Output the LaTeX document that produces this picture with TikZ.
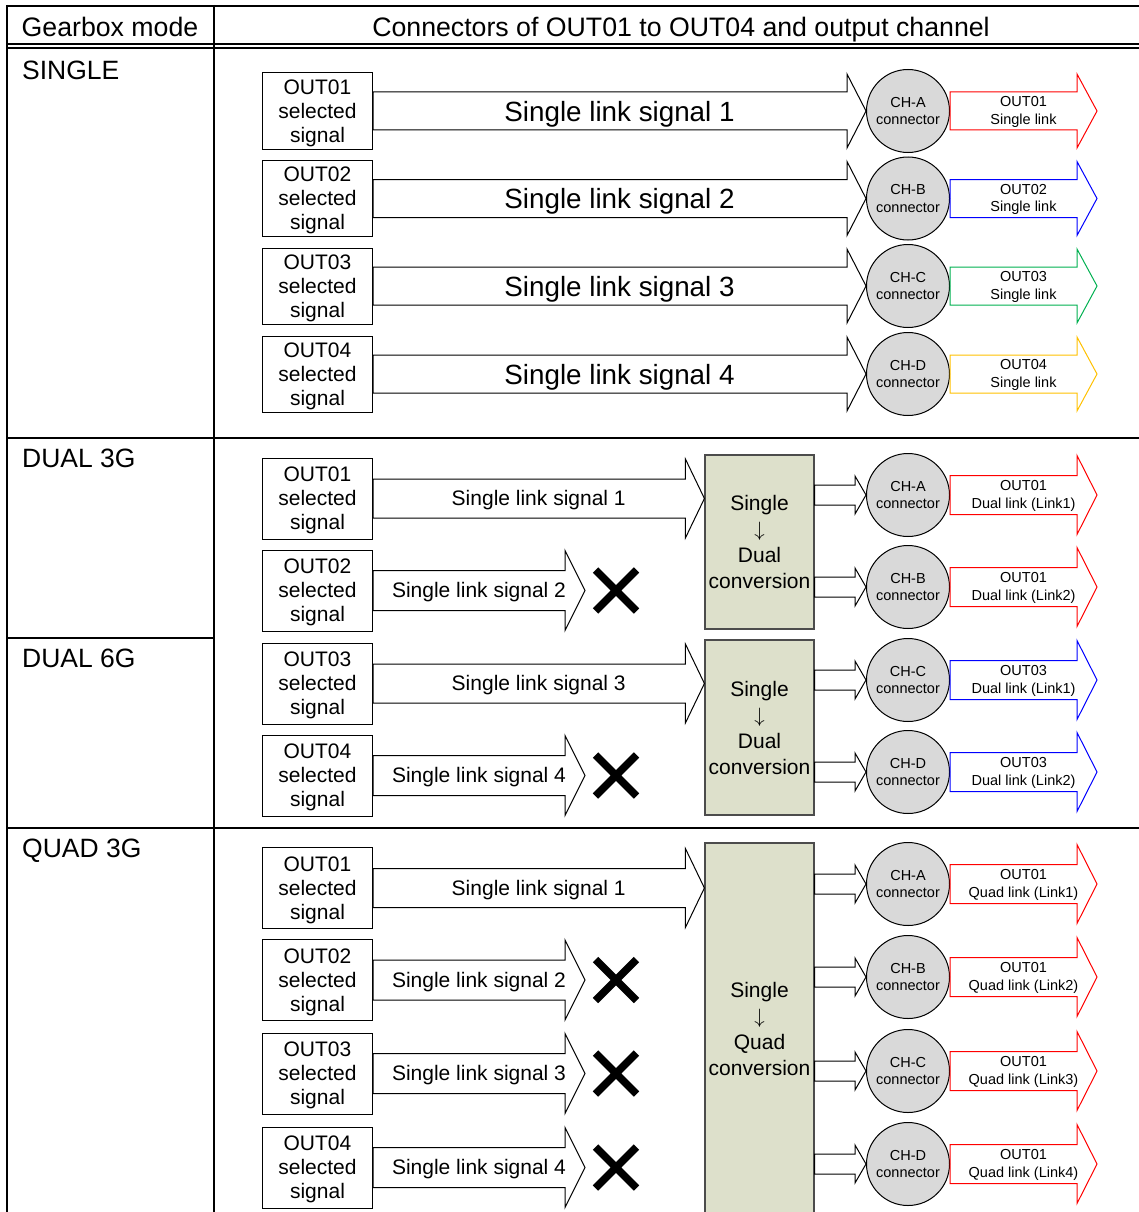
\documentclass[tikz,border=0pt]{standalone}
\usepackage{fontspec}
\setmainfont{Liberation Sans}
\usetikzlibrary{calc}

\definecolor{convfill}{HTML}{DDE0CB}
\definecolor{connfill}{HTML}{D9D9D9}
\definecolor{linkred}{HTML}{FF0000}
\definecolor{linkblue}{HTML}{0000FF}
\definecolor{linkgreen}{HTML}{00B050}
\definecolor{linkyellow}{HTML}{FFC000}

% fat arrow: [colour]{from}{to}{shaft half}{head half}{head length}
\newcommand{\fatarrow}[6][black]{%
  \draw[#1,line width=1] let \p1=(#2), \p2=(#3) in
    (\x1,\y1+#4) -- (\x2-#6,\y1+#4) -- (\x2-#6,\y1+#5) -- (\x2,\y1)
    -- (\x2-#6,\y1-#5) -- (\x2-#6,\y1-#4) -- (\x1,\y1-#4) -- cycle;}
\newcommand{\crossmark}[1]{%
  \draw[line width=7.5] (#1) +(-20.5,-20.5) -- +(20.5,20.5)
    (#1) +(-20.5,20.5) -- +(20.5,-20.5);}

\begin{document}
\begin{tikzpicture}[x=1pt,y=-1pt,
  gridline/.style={line width=2},
  headtext/.style={anchor=base,inner sep=0,font=\fontsize{26.7}{30}\selectfont},
  modelabel/.style={anchor=base west,inner sep=0,font=\fontsize{26.5}{30}\selectfont},
  selbox/.style={draw,line width=1,minimum width=110,minimum height=81,inner sep=0,
    align=center,font=\fontsize{21}{24}\selectfont,text depth=-1.5pt},
  conn/.style={circle,draw,line width=1,fill=connfill,minimum size=83,
    inner sep=0,align=center,font=\fontsize{14.5}{17.5}\selectfont},
  conv/.style={draw=black!70,line width=1.2,fill=convfill,minimum width=109,inner sep=0,
    align=center,font=\fontsize{21}{26}\selectfont},
  bigsig/.style={font=\fontsize{27.8}{30}\selectfont,yshift=-3},
  sig/.style={font=\fontsize{21}{24}\selectfont,yshift=-2},
  linktext/.style={align=center,font=\fontsize{14.5}{17.5}\selectfont,yshift=-1}]
  \useasboundingbox (0,0) rectangle (1139,1212);

  % table
  \draw[gridline] (7,6) -- (1141,6);
  \draw[gridline] (7,44.3) -- (1141,44.3) (7,48.3) -- (1141,48.3);
  \draw[gridline] (7,438) -- (1141,438) (7,828) -- (1141,828);
  \draw[gridline] (7,638) -- (213.5,638);
  \draw[gridline] (7,5) -- (7,1214) (213.5,5) -- (213.5,1214);
  \node[headtext] (hMode) at (110,36.5) {Gearbox mode};
  \node[headtext] (hConn) at (681,36.5) {Connectors of OUT01 to OUT04 and output channel};
  \node[modelabel] (mSingle) at (22,79.5) {SINGLE};
  \node[modelabel] (mDual3) at (22,467.5) {DUAL 3G};
  \node[modelabel] (mDual6) at (22,667.5) {DUAL 6G};
  \node[modelabel] (mQuad3) at (22,857.5) {QUAD 3G};

  % SINGLE
  \node[selbox,minimum height=76] (si1) at (317.5,111) {OUT01\\selected\\signal};
  \node[selbox,minimum height=76] (si2) at (317.5,198.5) {OUT02\\selected\\signal};
  \node[selbox,minimum height=76] (si3) at (317.5,286) {OUT03\\selected\\signal};
  \node[selbox,minimum height=76] (si4) at (317.5,374) {OUT04\\selected\\signal};
  \node[conn] (sA) at (908,111) {CH-A\\connector};
  \node[conn] (sB) at (908,198.5) {CH-B\\connector};
  \node[conn] (sC) at (908,286) {CH-C\\connector};
  \node[conn] (sD) at (908,374) {CH-D\\connector};
  \fatarrow{si1.east}{sA.west}{19pt}{37pt}{19pt}
  \fatarrow{si2.east}{sB.west}{19pt}{37pt}{19pt}
  \fatarrow{si3.east}{sC.west}{19pt}{37pt}{19pt}
  \fatarrow{si4.east}{sD.west}{19pt}{37pt}{19pt}
  \node[bigsig] (sl1) at ($(si1.east)!0.5!(sA.west)$) {Single link signal 1};
  \node[bigsig] (sl2) at ($(si2.east)!0.5!(sB.west)$) {Single link signal 2};
  \node[bigsig] (sl3) at ($(si3.east)!0.5!(sC.west)$) {Single link signal 3};
  \node[bigsig] (sl4) at ($(si4.east)!0.5!(sD.west)$) {Single link signal 4};
  \fatarrow[linkred]{sA.east}{$(sA.east)+(147,0)$}{19pt}{37pt}{20pt}
  \fatarrow[linkblue]{sB.east}{$(sB.east)+(147,0)$}{19pt}{37pt}{20pt}
  \fatarrow[linkgreen]{sC.east}{$(sC.east)+(147,0)$}{19pt}{37pt}{20pt}
  \fatarrow[linkyellow]{sD.east}{$(sD.east)+(147,0)$}{19pt}{37pt}{20pt}
  \node[linktext] (so1) at ($(sA.east)+(73.5,0)$) {OUT01\\Single link};
  \node[linktext] (so2) at ($(sB.east)+(73.5,0)$) {OUT02\\Single link};
  \node[linktext] (so3) at ($(sC.east)+(73.5,0)$) {OUT03\\Single link};
  \node[linktext] (so4) at ($(sD.east)+(73.5,0)$) {OUT04\\Single link};

  % DUAL 3G / DUAL 6G
  \node[selbox] (d1) at (317.5,498.5) {OUT01\\selected\\signal};
  \node[selbox] (d2) at (317.5,590.5) {OUT02\\selected\\signal};
  \node[selbox] (d3) at (317.5,683.5) {OUT03\\selected\\signal};
  \node[selbox] (d4) at (317.5,775.5) {OUT04\\selected\\signal};
  \node[conv,minimum height=174] (dc1) at (759.5,542) {Single\\$\downarrow$\\Dual\\conversion};
  \node[conv,minimum height=175] (dc2) at (759.5,727.5) {Single\\$\downarrow$\\Dual\\conversion};
  \node[conn] (dA) at (908,495) {CH-A\\connector};
  \node[conn] (dB) at (908,587) {CH-B\\connector};
  \node[conn] (dC) at (908,680) {CH-C\\connector};
  \node[conn] (dD) at (908,772) {CH-D\\connector};
  \coordinate (dx2) at (585,590.5);
  \coordinate (dx4) at (585,775.5);
  \fatarrow{d1.east}{dc1.west |- d1}{19.5pt}{39.5pt}{19pt}
  \fatarrow{d2.east}{dx2}{20pt}{40pt}{20pt}
  \fatarrow{d3.east}{dc2.west |- d3}{19.5pt}{39.5pt}{19pt}
  \fatarrow{d4.east}{dx4}{20pt}{40pt}{20pt}
  \node[sig] (dl1) at ($(d1.east)!0.5!(dc1.west |- d1)$) {Single link signal 1};
  \node[sig] (dl2) at ($(d2.east)!0.5!(dx2)$) {Single link signal 2};
  \node[sig] (dl3) at ($(d3.east)!0.5!(dc2.west |- d3)$) {Single link signal 3};
  \node[sig] (dl4) at ($(d4.east)!0.5!(dx4)$) {Single link signal 4};
  \crossmark{616,590.5}
  \crossmark{616,775.5}
  \fatarrow{dc1.east |- dA}{dA.west}{10pt}{19pt}{11pt}
  \fatarrow{dc1.east |- dB}{dB.west}{10pt}{19pt}{11pt}
  \fatarrow{dc2.east |- dC}{dC.west}{10pt}{19pt}{11pt}
  \fatarrow{dc2.east |- dD}{dD.west}{10pt}{19pt}{11pt}
  \fatarrow[linkred]{dA.east}{$(dA.east)+(147,0)$}{19.5pt}{39.5pt}{20pt}
  \fatarrow[linkred]{dB.east}{$(dB.east)+(147,0)$}{19.5pt}{39.5pt}{20pt}
  \fatarrow[linkblue]{dC.east}{$(dC.east)+(147,0)$}{19.5pt}{39.5pt}{20pt}
  \fatarrow[linkblue]{dD.east}{$(dD.east)+(147,0)$}{19.5pt}{39.5pt}{20pt}
  \node[linktext] (do1) at ($(dA.east)+(73.5,0)$) {OUT01\\Dual link (Link1)};
  \node[linktext] (do2) at ($(dB.east)+(73.5,0)$) {OUT01\\Dual link (Link2)};
  \node[linktext] (do3) at ($(dC.east)+(73.5,0)$) {OUT03\\Dual link (Link1)};
  \node[linktext] (do4) at ($(dD.east)+(73.5,0)$) {OUT03\\Dual link (Link2)};

  % QUAD 3G
  \node[selbox] (q1) at (317.5,888) {OUT01\\selected\\signal};
  \node[selbox] (q2) at (317.5,980) {OUT02\\selected\\signal};
  \node[selbox] (q3) at (317.5,1073.5) {OUT03\\selected\\signal};
  \node[selbox] (q4) at (317.5,1167.5) {OUT04\\selected\\signal};
  \node[conv,minimum height=371] (qc) at (759.5,1028.5) {Single\\$\downarrow$\\Quad\\conversion};
  \node[conn] (qA) at (908,884) {CH-A\\connector};
  \node[conn] (qB) at (908,977) {CH-B\\connector};
  \node[conn] (qC) at (908,1071) {CH-C\\connector};
  \node[conn] (qD) at (908,1164) {CH-D\\connector};
  \coordinate (qx2) at (585,980);
  \coordinate (qx3) at (585,1073.5);
  \coordinate (qx4) at (585,1167.5);
  \fatarrow{q1.east}{qc.west |- q1}{19.5pt}{39.5pt}{19pt}
  \fatarrow{q2.east}{qx2}{20pt}{40pt}{20pt}
  \fatarrow{q3.east}{qx3}{20pt}{40pt}{20pt}
  \fatarrow{q4.east}{qx4}{20pt}{40pt}{20pt}
  \node[sig] (ql1) at ($(q1.east)!0.5!(qc.west |- q1)$) {Single link signal 1};
  \node[sig] (ql2) at ($(q2.east)!0.5!(qx2)$) {Single link signal 2};
  \node[sig] (ql3) at ($(q3.east)!0.5!(qx3)$) {Single link signal 3};
  \node[sig] (ql4) at ($(q4.east)!0.5!(qx4)$) {Single link signal 4};
  \crossmark{616,980}
  \crossmark{616,1073.5}
  \crossmark{616,1167.5}
  \fatarrow{qc.east |- qA}{qA.west}{10pt}{19pt}{11pt}
  \fatarrow{qc.east |- qB}{qB.west}{10pt}{19pt}{11pt}
  \fatarrow{qc.east |- qC}{qC.west}{10pt}{19pt}{11pt}
  \fatarrow{qc.east |- qD}{qD.west}{10pt}{19pt}{11pt}
  \fatarrow[linkred]{qA.east}{$(qA.east)+(147,0)$}{19.5pt}{39.5pt}{20pt}
  \fatarrow[linkred]{qB.east}{$(qB.east)+(147,0)$}{19.5pt}{39.5pt}{20pt}
  \fatarrow[linkred]{qC.east}{$(qC.east)+(147,0)$}{19.5pt}{39.5pt}{20pt}
  \fatarrow[linkred]{qD.east}{$(qD.east)+(147,0)$}{19.5pt}{39.5pt}{20pt}
  \node[linktext] (qo1) at ($(qA.east)+(73.5,0)$) {OUT01\\Quad link (Link1)};
  \node[linktext] (qo2) at ($(qB.east)+(73.5,0)$) {OUT01\\Quad link (Link2)};
  \node[linktext] (qo3) at ($(qC.east)+(73.5,0)$) {OUT01\\Quad link (Link3)};
  \node[linktext] (qo4) at ($(qD.east)+(73.5,0)$) {OUT01\\Quad link (Link4)};
\end{tikzpicture}
\end{document}
